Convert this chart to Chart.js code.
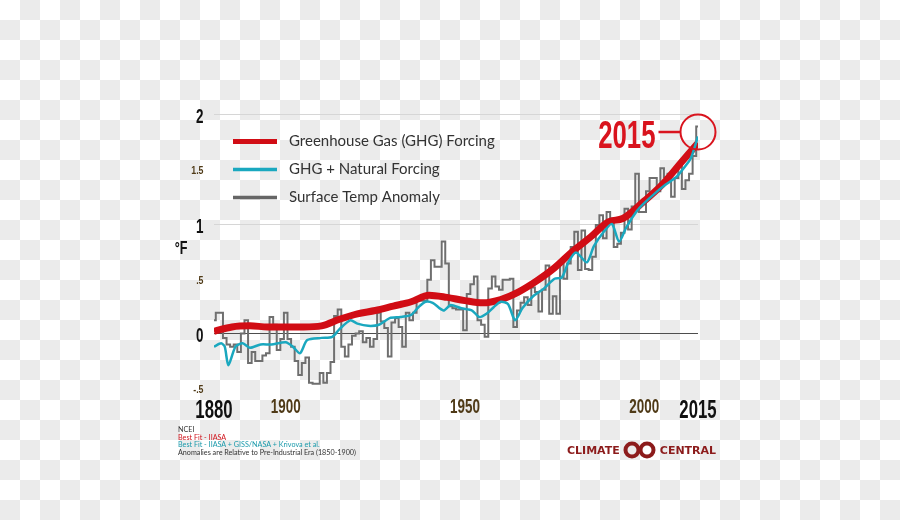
<!DOCTYPE html>
<html>
<head>
<meta charset="utf-8">
<title>Surface Temp Anomaly vs GHG Forcing</title>
<script src="https://cdn.jsdelivr.net/npm/chart.js@4.4.0/dist/chart.umd.min.js"></script>
<style>
  html, body { margin: 0; padding: 0; }
  body {
    width: 900px; height: 520px; position: relative; overflow: hidden;
    background: repeating-conic-gradient(#ebebeb 0 25%, #ffffff 0 50%) 0 0 / 40px 40px;
  }
  #chart { position: absolute; left: 0; top: 0; }
  .notes {
    position: absolute; left: 178px; top: 426px;
    font: 7.2px/7.6px Lato, sans-serif; color: #333; white-space: nowrap;
  }
  .notes .red { color: #d0121b; }
  .notes .teal { color: #1a9aab; }
  .brand {
    position: absolute; left: 567px; top: 441px; height: 18px;
    display: flex; align-items: center; gap: 2px;
    font: bold 11px "DejaVu Sans", sans-serif; color: #8c1b1b;
  }
</style>
</head>
<body>
<canvas id="chart" width="900" height="520"></canvas>

<div class="notes">
  <div>NCEI</div>
  <div class="red">Best Fit - IIASA</div>
  <div class="teal">Best Fit - IIASA + GISS/NASA + Krivova et al.</div>
  <div>Anomalies are Relative to Pre-Industrial Era (1850-1900)</div>
</div>

<div class="brand">
  <span>CLIMATE</span>
  <svg width="36" height="18" viewBox="0 0 36 18">
    <circle cx="10" cy="9" r="6.5" fill="none" stroke="#8c1b1b" stroke-width="4"/>
    <circle cx="25" cy="9" r="6.5" fill="none" stroke="#8c1b1b" stroke-width="4"/>
  </svg>
  <span>CENTRAL</span>
</div>

<script>
// annual surface temperature anomaly (°F), 1880 - 2015
const firstYear = 1880;
const anomaly = [
  0.12, 0.19, 0.19, -0.04, -0.10, -0.12, -0.10, -0.17, 0.00, 0.12,
  -0.27, -0.17, -0.25, -0.25, -0.20, -0.18, 0.15, 0.08, -0.15, -0.05,
  0.19, -0.05, -0.12, -0.25, -0.38, -0.27, -0.22, -0.45, -0.46, -0.46,
  -0.36, -0.45, -0.36, -0.26, 0.16, 0.22, -0.12, -0.21, -0.10, -0.02,
  0.00, 0.02, -0.08, -0.04, -0.12, -0.05, 0.19, 0.11, 0.05, -0.21,
  0.10, 0.14, 0.06, -0.12, 0.19, 0.12, 0.19, 0.30, 0.30, 0.30,
  0.49, 0.67, 0.61, 0.61, 0.84, 0.64, 0.25, 0.23, 0.22, 0.22,
  0.03, 0.36, 0.45, 0.52, 0.12, 0.08, -0.03, 0.41, 0.52, 0.43,
  0.40, 0.49, 0.49, 0.50, 0.06, 0.21, 0.28, 0.33, 0.26, 0.42,
  0.38, 0.20, 0.40, 0.62, 0.18, 0.34, 0.18, 0.65, 0.50, 0.64,
  0.79, 0.93, 0.58, 0.94, 0.59, 0.58, 0.70, 0.99, 1.08, 0.87,
  1.11, 1.05, 0.79, 0.82, 0.92, 1.14, 0.95, 1.16, 1.46, 1.11,
  1.11, 1.30, 1.42, 1.42, 1.30, 1.51, 1.43, 1.46, 1.25, 1.42,
  1.55, 1.32, 1.40, 1.46, 1.62, 1.89
];

// best fit, greenhouse gas forcing only
const ghgYears = [1880, 1885, 1890, 1895, 1900, 1905, 1910, 1915, 1920, 1925, 1930, 1935, 1940, 1945,
  1950, 1955, 1960, 1965, 1970, 1975, 1980, 1985, 1990, 1994, 2000, 2005, 2010, 2015];
const ghgValues = [0.02, 0.06, 0.07, 0.06, 0.06, 0.06, 0.07, 0.13, 0.18, 0.21, 0.25, 0.29, 0.35, 0.33,
  0.30, 0.28, 0.31, 0.38, 0.48, 0.60, 0.75, 0.88, 1.02, 1.05, 1.21, 1.36, 1.55, 1.74];

// best fit, GHG + natural forcing (volcanoes, sun)
const natYears = [1880, 1882, 1883, 1884, 1886, 1888, 1890, 1893, 1896, 1900, 1902, 1904, 1906, 1910,
  1913, 1915, 1918, 1920, 1923, 1926, 1929, 1932, 1935, 1937, 1939, 1941, 1944, 1946, 1949, 1952,
  1954, 1956, 1958, 1960, 1962, 1964, 1966, 1969, 1972, 1975, 1977, 1979, 1981, 1984, 1986, 1989,
  1991, 1993, 1995, 1998, 2000, 2003, 2006, 2009, 2011, 2013, 2015];
const natValues = [-0.12, -0.09, -0.12, -0.29, -0.12, -0.09, -0.13, -0.10, -0.10, -0.08, -0.12, -0.18, -0.06, -0.04,
  -0.03, 0.04, 0.12, 0.09, 0.07, 0.08, 0.14, 0.15, 0.17, 0.24, 0.29, 0.28, 0.21, 0.26, 0.23, 0.21,
  0.15, 0.18, 0.24, 0.29, 0.27, 0.12, 0.23, 0.34, 0.41, 0.50, 0.51, 0.66, 0.74, 0.65, 0.80, 0.94,
  1.00, 0.84, 0.97, 1.12, 1.19, 1.28, 1.36, 1.43, 1.51, 1.60, 1.80];

const xTickYears = [1880, 1900, 1950, 2000, 2015];
const bigXTicks = [1880, 2015];
const yTickValues = [-0.5, 0, 0.5, 1, 1.5, 2];
const yTickLabels = ['-.5', '0', '.5', '1', '1.5', '2'];
const bigYTicks = [0, 1, 2];

const highlightYear = 2015;
const highlightValue = 1.84;

const BOLD = '"Liberation Sans", Arial, sans-serif';
const BROWN = '#4f3a17';

const toPoints = (xs, ys) => xs.map((x, i) => ({ x: x, y: ys[i] }));
const tickVal = (c) => (c && c.tick ? c.tick.value : null);

// condensed bold text: squeeze horizontally around the anchor point
function squeezedText(ctx, text, px, py, size, sx, align, color) {
    ctx.save();
    ctx.translate(px, py);
    ctx.scale(sx, 1);
    ctx.font = 'bold ' + size + 'px ' + BOLD;
    ctx.fillStyle = color;
    ctx.textAlign = align;
    ctx.textBaseline = 'alphabetic';
    ctx.fillText(text, 0, 0);
    ctx.restore();
}

const overlay = {
    id: 'overlay',
    afterDraw(chart) {
        const { ctx, chartArea, scales: { x, y } } = chart;

        // tick labels
        x.ticks.forEach((t) => {
            const px = x.getPixelForValue(t.value);
            if (bigXTicks.includes(t.value)) {
                squeezedText(ctx, t.label, px, chartArea.bottom + 30, 25, 0.67, 'center', '#111');
            } else {
                squeezedText(ctx, t.label, px, chartArea.bottom + 25, 21, 0.64, 'center', BROWN);
            }
        });
        y.ticks.forEach((t) => {
            const py = y.getPixelForValue(t.value);
            if (bigYTicks.includes(t.value)) {
                squeezedText(ctx, t.label, chartArea.left - 10.5, py + 8.5, 21, 0.64, 'right', '#111');
            } else {
                squeezedText(ctx, t.label, chartArea.left - 10.5, py + 5, 11, 0.8, 'right', BROWN);
            }
        });

        // unit
        squeezedText(ctx, '°F', chartArea.left - 33, y.getPixelForValue(0.79) + 7, 18, 0.7, 'center', '#111');

        ctx.save();
        // legend, top left inside the plot
        const widths = [5, 3.5, 3.5];
        chart.data.datasets.forEach((ds, i) => {
            const ly = chartArea.top + 27 + i * 28;
            ctx.strokeStyle = ds.legendColor || ds.borderColor;
            ctx.lineWidth = widths[i];
            ctx.beginPath();
            ctx.moveTo(chartArea.left + 19, ly);
            ctx.lineTo(chartArea.left + 63, ly);
            ctx.stroke();
            ctx.font = '15px Lato, sans-serif';
            ctx.fillStyle = '#333';
            ctx.textAlign = 'left';
            ctx.textBaseline = 'middle';
            ctx.fillText(ds.label, chartArea.left + 75, ly);
        });

        // 2015 call-out
        const cx = x.getPixelForValue(highlightYear);
        const cy = y.getPixelForValue(highlightValue);
        const r = 17.5;
        ctx.strokeStyle = '#d9141e';
        ctx.lineWidth = 2;
        ctx.beginPath();
        ctx.arc(cx, cy, r, 0, Math.PI * 2);
        ctx.stroke();
        ctx.lineWidth = 2.5;
        ctx.beginPath();
        ctx.moveTo(cx - r - 22, cy);
        ctx.lineTo(cx - r, cy);
        ctx.stroke();
        ctx.restore();

        squeezedText(ctx, String(highlightYear), cx - r - 25, cy + 15.5, 39, 0.66, 'right', '#d9141e');
    }
};

new Chart(document.getElementById('chart'), {
    type: 'line',
    data: {
        datasets: [
            {
                label: 'Greenhouse Gas (GHG) Forcing',
                data: toPoints(ghgYears, ghgValues),
                borderColor: '#d10d15',
                borderWidth: 7,
                cubicInterpolationMode: 'monotone',
                pointRadius: 0,
                order: 2
            },
            {
                label: 'GHG + Natural Forcing',
                data: toPoints(natYears, natValues),
                borderColor: '#1aa8bf',
                borderWidth: 2.5,
                tension: 0.25,
                pointRadius: 0,
                order: 1
            },
            {
                label: 'Surface Temp Anomaly',
                data: anomaly.map((v, i) => ({ x: firstYear + i, y: v })),
                borderColor: '#6f6f6f',
                legendColor: '#666666',
                borderWidth: 2,
                stepped: 'middle',
                pointRadius: 0,
                order: 3
            }
        ]
    },
    options: {
        responsive: false,
        animation: false,
        layout: { padding: { top: 114.5, right: 202, left: 0, bottom: 0 } },
        plugins: {
            legend: { display: false },
            tooltip: { enabled: false }
        },
        scales: {
            x: {
                type: 'linear',
                min: 1880,
                max: 2015,
                afterBuildTicks: (scale) => { scale.ticks = xTickYears.map(v => ({ value: v })); },
                afterFit: (scale) => { scale.height = 131.75; },
                border: { display: false },
                grid: { display: false },
                ticks: {
                    display: false,
                    autoSkip: false,
                    callback: (v) => String(v)
                }
            },
            y: {
                min: -0.5,
                max: 2,
                afterBuildTicks: (scale) => { scale.ticks = yTickValues.map(v => ({ value: v })); },
                afterFit: (scale) => { scale.width = 214; },
                border: { display: false },
                grid: {
                    drawTicks: false,
                    lineWidth: 1,
                    color: (c) => {
                        const v = tickVal(c);
                        if (v === 0) return '#4d4d4d';
                        if (v === 1 || v === 2) return '#d6d6d6';
                        return 'rgba(0,0,0,0)';
                    }
                },
                ticks: {
                    display: false,
                    callback: (v, i) => yTickLabels[i]
                }
            }
        }
    },
    plugins: [overlay]
});
</script>
</body>
</html>
